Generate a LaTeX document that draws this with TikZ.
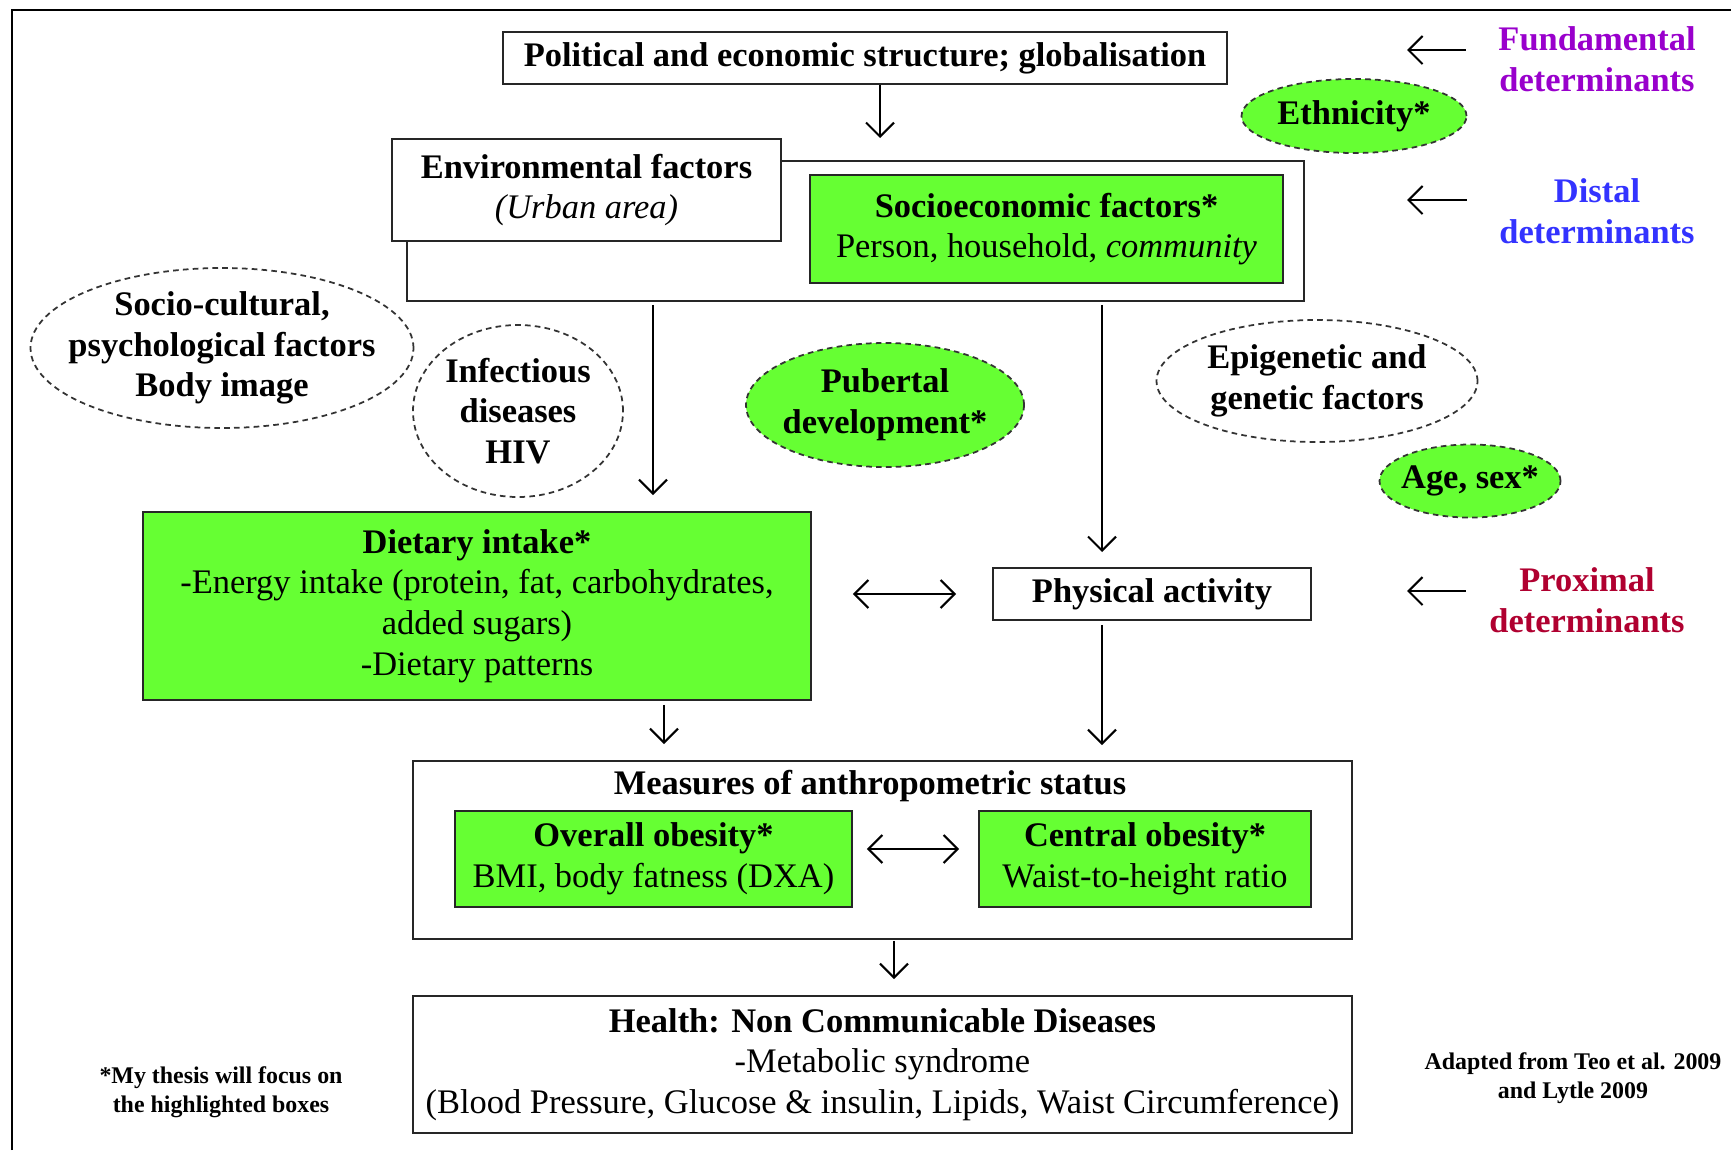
\documentclass[tikz,border=0pt]{standalone}
\usepackage{fontspec}
\setmainfont{Liberation Serif}
\usepackage{xcolor}
\usepackage{tikz}
\usetikzlibrary{shapes.geometric}
\usetikzlibrary{arrows.meta}
\usetikzlibrary{positioning}

\definecolor{boxgreen}{RGB}{102,255,51}
\definecolor{fundpurple}{RGB}{153,0,204}
\definecolor{distblue}{RGB}{51,51,255}
\definecolor{proxred}{RGB}{176,0,48}

\begin{document}
\begin{tikzpicture}[
    x=0.1mm, y=-0.1mm,
    font=\fontsize{9.8}{11.6}\selectfont,
    whitebox/.style={rectangle, draw=black!85, line width=0.5pt, fill=white, align=center, inner sep=0pt},
    greenbox/.style={whitebox, fill=boxgreen},
    dashedell/.style={ellipse, draw=black!80, line width=0.5pt, dash pattern=on 1.6pt off 1.2pt, align=center, inner sep=-8mm, font=\fontsize{9.8}{11.6}\selectfont\bfseries},
    greenell/.style={dashedell, fill=boxgreen},
    level/.style={align=center, inner sep=0pt, font=\fontsize{9.8}{11.6}\selectfont\bfseries},
    note/.style={align=center, inner sep=0pt, font=\fontsize{6.8}{8.4}\selectfont\bfseries},
    link/.style={-{Straight Barb[length=1.4mm, width=2.8mm]}, line width=0.6pt},
    twoway/.style={{Straight Barb[length=1.4mm, width=2.8mm]}-{Straight Barb[length=1.4mm, width=2.8mm]}, line width=0.6pt}
]

    % Area del disegno e cornice (solo lati sinistro e superiore)
    \useasboundingbox (0,0) rectangle (1731,1150);
    \draw[line width=0.8pt] (12,1150) -- (12,10) -- (1731,10);

    % 1. Livello fondamentale e distale
    \node[whitebox, minimum width=72.4mm, minimum height=5.2mm] (pol) at (865,58)
        {\bfseries Political and economic structure; globalisation};
    \node[whitebox, minimum width=89.7mm, minimum height=14mm] (outer) at (855.5,231) {};
    \node[whitebox, minimum width=38.9mm, minimum height=10.2mm] (env) at (586.5,190)
        {\textbf{Environmental factors}\\\textit{(Urban area)}};
    \node[greenbox, minimum width=47.3mm, minimum height=10.8mm] (soc) at (1046.5,229)
        {\textbf{Socioeconomic factors*}\\Person, household, \textit{community}};

    % 2. Ellissi dei fattori (tratteggiate)
    \node[greenell, minimum width=22.5mm, minimum height=7.4mm] (ethn) at (1354,116) {Ethnicity*};
    \node[dashedell, minimum width=38.3mm, minimum height=16mm] (socult) at (222,348)
        {Socio-cultural,\\psychological factors\\Body image};
    \node[dashedell, minimum width=21mm, minimum height=17.2mm] (infect) at (518,411)
        {Infectious\\diseases\\HIV};
    \node[greenell, minimum width=27.8mm, minimum height=12.4mm] (puber) at (885,405)
        {Pubertal\\development*};
    \node[dashedell, minimum width=32.1mm, minimum height=12.2mm] (epi) at (1317,381)
        {Epigenetic and\\genetic factors};
    \node[greenell, minimum width=18.1mm, minimum height=7.3mm] (age) at (1470,481) {Age, sex*};

    % 3. Livello prossimale
    \node[greenbox, minimum width=66.8mm, minimum height=18.8mm] (diet) at (477,606)
        {\textbf{Dietary intake*}\\-Energy intake (protein, fat, carbohydrates,\\added sugars)\\-Dietary patterns};
    \node[whitebox, minimum width=31.8mm, minimum height=5.2mm] (phys) at (1152,594)
        {\bfseries Physical activity};

    % 4. Misure antropometriche ed esito
    \node[whitebox, minimum width=93.9mm, minimum height=17.8mm] (meas) at (882.5,850) {};
    \node[level] (meastitle) at (870,786) {Measures of anthropometric status};
    \node[greenbox, minimum width=39.7mm, minimum height=9.6mm] (over) at (653.5,859)
        {\textbf{Overall obesity*}\\BMI, body fatness (DXA)};
    \node[greenbox, minimum width=33.2mm, minimum height=9.6mm] (cent) at (1145,859)
        {\textbf{Central obesity*}\\Waist-to-height ratio};
    \node[whitebox, minimum width=93.9mm, minimum height=13.7mm] (health) at (882.5,1064.5)
        {\textbf{Health: Non Communicable Diseases}\\-Metabolic syndrome\\(Blood Pressure, Glucose \& insulin, Lipids, Waist Circumference)};

    % 5. Etichette dei determinanti e note
    \node[level, text=fundpurple] (fund) at (1597,59) {Fundamental\\determinants};
    \node[level, text=distblue] (dist) at (1597,211) {Distal\\determinants};
    \node[level, text=proxred] (prox) at (1587,600) {Proximal\\determinants};
    \node[note] (thesis) at (221,1092) {*My thesis will focus on\\the highlighted boxes};
    \node[note] (source) at (1573,1078) {Adapted from Teo et al. 2009\\and Lytle 2009};

    % 6. Frecce (punte libere come coordinate)
    \coordinate (poltip) at (880,138);
    \coordinate (envdrop) at (653,495);
    \coordinate (socdrop) at (1102,552);
    \coordinate (physdrop) at (1102,745);
    \coordinate (dietdrop) at (664,744);
    \coordinate (measdrop) at (894,979);
    \coordinate (fundtip) at (1407,50);
    \coordinate (disttip) at (1407,200);
    \coordinate (proxtip) at (1407,591);

    \draw[link] (pol.south -| poltip) -- (poltip);
    \draw[link, shorten <=0.3mm] (outer.south -| envdrop) -- (envdrop);
    \draw[link, shorten <=0.3mm] (outer.south -| socdrop) -- (socdrop);
    \draw[link, shorten <=0.4mm] (phys.south -| physdrop) -- (physdrop);
    \draw[link, shorten <=0.4mm] (diet.south -| dietdrop) -- (dietdrop);
    \draw[link, shorten <=0.1mm] (meas.south -| measdrop) -- (measdrop);
    \draw[twoway, shorten <=4.1mm, shorten >=3.6mm] (diet.east |- phys.west) -- (phys.west);
    \draw[twoway, shorten <=1.4mm, shorten >=1.9mm] ([yshift=1mm]over.east) -- ([yshift=1mm]cent.west);

    \draw[link, shorten <=3.2mm] (fund.west |- fundtip) -- (fundtip);
    \draw[link, shorten <=3.2mm] (dist.west |- disttip) -- (disttip);
    \draw[link, shorten <=2.3mm] (prox.west |- proxtip) -- (proxtip);

\end{tikzpicture}
\end{document}
